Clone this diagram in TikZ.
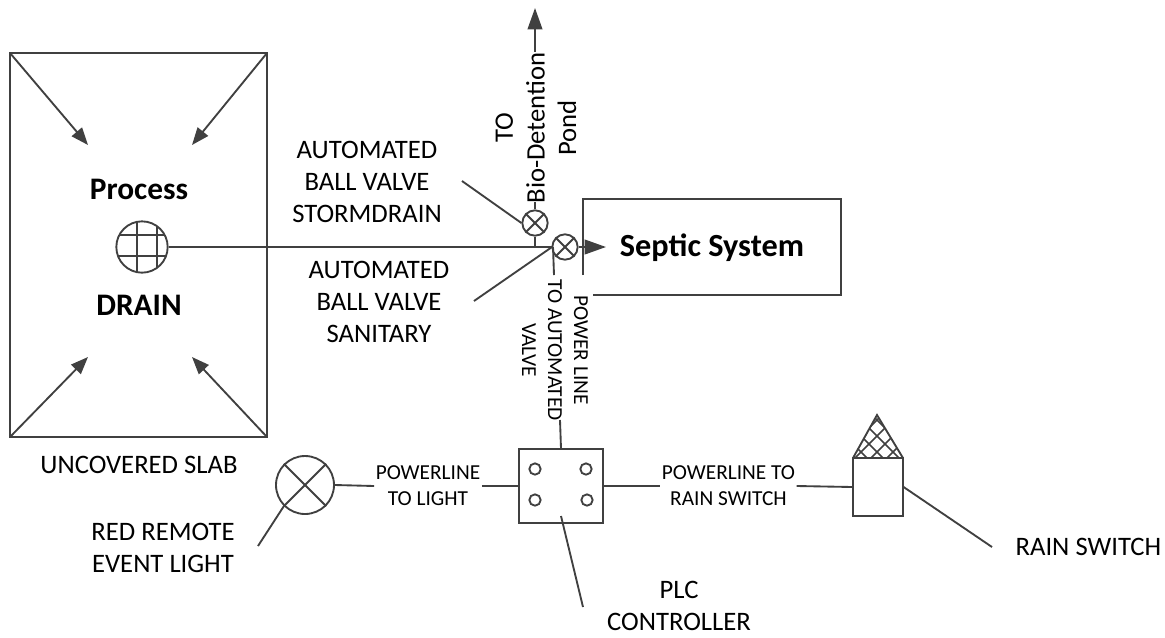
\documentclass[tikz,border=0pt]{standalone}
\usepackage{fontspec}
\setmainfont{Carlito}
\usetikzlibrary{arrows.meta}
\definecolor{linegray}{HTML}{404040}
\tikzset{
    wire/.style={draw=linegray,line width=1.4pt},
    flow/.style={wire,-{Triangle[length=16pt,width=11pt]}},
    inflow/.style={wire,-{Triangle[length=13pt,width=10pt]}},
    label/.style={text=black,align=center,inner sep=1pt,font=\fontsize{20}{23.7}\selectfont},
    small/.style={text=black,align=center,inner sep=1pt,font=\fontsize{16}{19.5}\selectfont},
    title/.style={text=black,align=center,inner sep=1pt,font=\fontsize{23.5}{28}\selectfont\bfseries},
    valve/.style={circle,wire,minimum size=19pt,inner sep=0pt,fill=white},
    port/.style={circle,wire,minimum size=8.5pt,inner sep=0pt},
}
\begin{document}
\begin{tikzpicture}[x=0.75pt,y=-0.75pt]
\useasboundingbox (0,0) rectangle (1165,637);
% slab
\draw[wire] (10,53) rectangle (267,437);
\coordinate (slabnw) at (10,53);
\coordinate (slabne) at (267,53);
\coordinate (slabsw) at (10,437);
\coordinate (slabse) at (267,437);
\coordinate (inflownw) at (88,145);
\coordinate (inflowne) at (192,145);
\coordinate (inflowsw) at (88,357);
\coordinate (inflowse) at (192,357);
\draw[inflow] (slabnw) -- (inflownw);
\draw[inflow] (slabne) -- (inflowne);
\draw[inflow] (slabsw) -- (inflowsw);
\draw[inflow] (slabse) -- (inflowse);
\node[title] (process) at (139,189) {Process};
\node[title] (drainlabel) at (139,305) {DRAIN};
\node[label] (slablabel) at (139,465) {UNCOVERED SLAB};
% drain grid
\node[circle,wire,minimum size=38.5pt,inner sep=0pt] (drain) at (142,247) {};
\begin{scope}
\clip (142,247) circle [radius=26];
\foreach \y in {235,256} \draw[wire] (110,\y) -- (175,\y);
\foreach \x in {137,157} \draw[wire] (\x,215) -- (\x,280);
\end{scope}
% valves
\coordinate (junction) at (552,247);
\node[valve] (stormvalve) at (535,223) {};
\node[valve] (sanvalve) at (565,247) {};
\draw[wire] (stormvalve.north west) -- (stormvalve.south east);
\draw[wire] (stormvalve.north east) -- (stormvalve.south west);
\draw[wire] (sanvalve.north west) -- (sanvalve.south east);
\draw[wire] (sanvalve.north east) -- (sanvalve.south west);
\draw[wire] (drain.east) -- (junction);
\draw[wire] (stormvalve.south) -- (535,247);
\coordinate (pondend) at (535,8);
\draw[flow] (stormvalve.north) -- (pondend);
\node[fill=white,rotate=90,minimum width=112.5pt,minimum height=14pt,inner sep=0pt] (pondgap) at (535,127) {};
\node[label,rotate=90,inner sep=0pt] (pondlabel) at (536,128) {TO\\Bio-Detention\\Pond};
% septic
\coordinate (septicend) at (606,247);
\draw[flow] (sanvalve.east) -- (septicend);
\coordinate (septicsw) at (583,275);
\coordinate (septicnw) at (583,199);
\coordinate (septicne) at (841,199);
\coordinate (septicse) at (841,295);
\coordinate (septicgap) at (593,295);
\draw[wire] (septicsw) -- (septicnw) -- (septicne) -- (septicse) -- (septicgap);
\node[title,font=\fontsize{24.2}{28}\selectfont\bfseries] (septic) at (712,248) {Septic System};
% callouts
\node[label] (stormlabel) at (367,182) {AUTOMATED\\BALL VALVE\\STORMDRAIN};
\node[label] (sanlabel) at (379,302) {AUTOMATED\\BALL VALVE\\SANITARY};
\coordinate (stormtail) at (462,181);
\coordinate (santail) at (474,301);
\draw[wire] (stormtail) -- (stormvalve.west);
\draw[wire] (santail) -- (junction);
% plc
\node[draw=linegray,line width=1.4pt,minimum width=63pt,minimum height=55pt,inner sep=0pt] (plc) at (561,486) {};
\node[port] (porta) at (535,469) {};
\node[port] (portb) at (586,469) {};
\node[port] (portc) at (535,500) {};
\node[port] (portd) at (587,500) {};
\node[small,rotate=-90] (powerlabel) at (555,350) {POWER LINE\\TO AUTOMATED\\VALVE};
\coordinate (powerstart) at (553,247);
\coordinate (powerbreak) at (554,275);
\coordinate (powerresume) at (560,420);
\draw[wire] (powerstart) -- (powerbreak);
\draw[wire] (powerresume) -- (plc.north);
\coordinate (plcsouth) at (561,516);
\coordinate (plctail) at (583,607);
\draw[wire] (plcsouth) -- (plctail);
\node[label,inner sep=0pt] (plclabel) at (679,606) {PLC\\CONTROLLER};
% light
\node[circle,wire,minimum size=43.5pt,inner sep=0pt] (light) at (305,485) {};
\draw[wire] (light.north west) -- (light.south east);
\draw[wire] (light.north east) -- (light.south west);
\node[small] (lightwire) at (428,486) {POWERLINE\\TO LIGHT};
\draw[wire] (light.east) -- (lightwire.west);
\draw[wire] (lightwire.east) -- (plc.west);
\coordinate (lighttail) at (258,546);
\draw[wire] (lighttail) -- (light.south west);
\node[label] (lightlabel) at (163,548) {RED REMOTE\\EVENT LIGHT};
% rain switch
\node[small] (rainwire) at (728.5,486) {POWERLINE TO\\RAIN SWITCH};
\node[draw=linegray,line width=1.4pt,minimum width=37pt,minimum height=43pt,inner sep=0pt] (rain) at (878,487) {};
\draw[wire] (plc.east) -- (rainwire.west);
\draw[wire] (rainwire.east) -- (rain.west);
\begin{scope}
\clip (853,458) -- (877,415) -- (903,458) -- cycle;
\foreach \d in {-40,-24,...,40} {
    \draw[linegray,line width=1.1pt] (877+\d-30,458) -- (877+\d+30,398);
    \draw[linegray,line width=1.1pt] (877+\d+30,458) -- (877+\d-30,398);
}
\end{scope}
\draw[wire] (853,458) -- (877,415) -- (903,458);
\coordinate (raintail) at (992,547);
\draw[wire] (rain.east) -- (raintail);
\node[label,anchor=west] (rainlabel) at (1014,547) {RAIN SWITCH};
\end{tikzpicture}
\end{document}
